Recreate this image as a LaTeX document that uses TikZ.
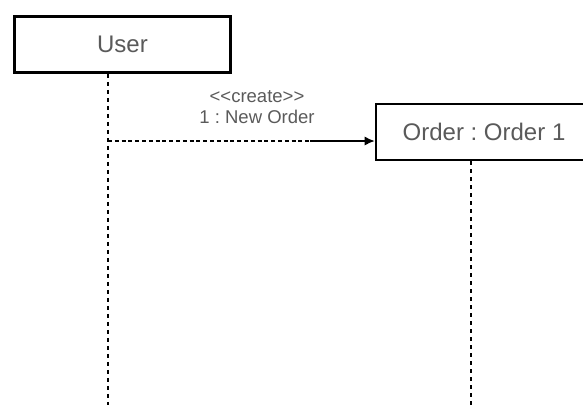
\documentclass[tikz,border=0pt]{standalone}
\usepackage{fontspec}
\setmainfont{Liberation Sans}
\usetikzlibrary{arrows.meta}
\definecolor{labelgrey}{HTML}{5A5A5A}
\frenchspacing

\begin{document}
\begin{tikzpicture}[x=1pt,y=-1pt]
                \tikzset{object/.style = {shape=rectangle,draw,line width=2.6pt,fill=white,text=labelgrey,font=\fontsize{24}{28}\selectfont}}
                \tikzset{lifeline/.style = {line width=1.3pt,dash pattern=on 4pt off 4pt}}
                \tikzset{msgline/.style = {line width=1.3pt,dash pattern=on 4pt off 2.8pt}}
                \tikzset{msghead/.style = {-{Latex[length=10pt,width=9pt]},line width=1.3pt}}
                \tikzset{msglabel/.style = {text=labelgrey,align=center,font=\fontsize{18.5}{21}\selectfont}}

                \useasboundingbox (0,0) rectangle (583,405);
                \clip (0,0) rectangle (583,405);

                \node[object,minimum width=216pt,minimum height=56pt] (user) at (122.5,44.5) {User};
                \node[object,minimum width=216pt,minimum height=56pt] (order) at (484,132) {Order : Order 1};

                \coordinate (userend) at (108,405);
                \coordinate (orderend) at (471,405);
                \coordinate (msgbreak) at (310,141);

                \draw[lifeline] (userend |- user.south) -- (userend);
                \draw[lifeline] (orderend |- order.south) -- (orderend);

                \draw[msgline] (userend |- msgbreak) -- (msgbreak);
                \draw[msghead] (msgbreak) -- (msgbreak -| order.west);
                \node[msglabel] (create) at (257,107.5) {<\kern0pt<create>\kern0pt>\\1 : New Order};

        \end{tikzpicture}
\end{document}
